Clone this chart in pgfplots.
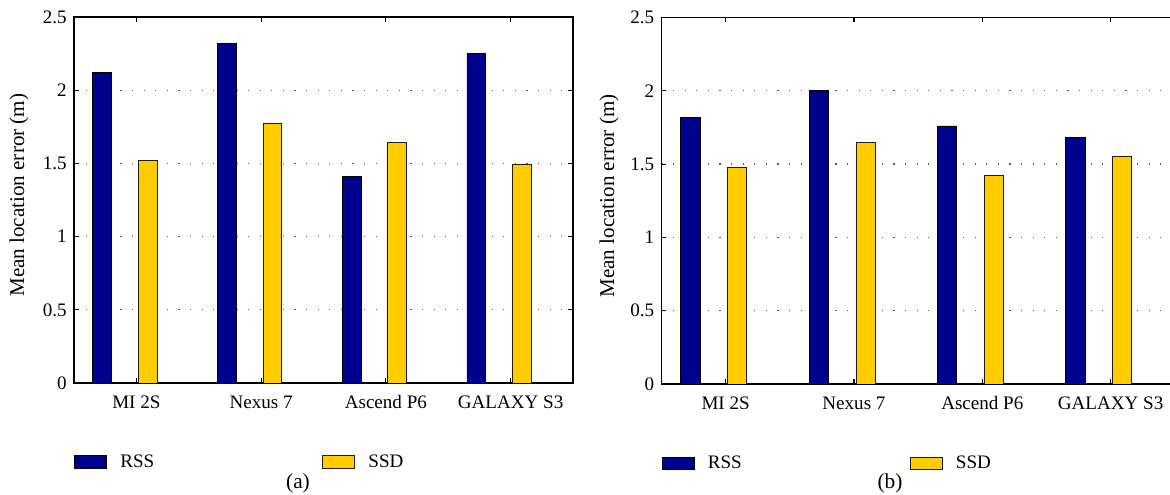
\documentclass[border=0pt]{standalone}
\usepackage{fontspec}
\setmainfont{Liberation Serif}
\usepackage{pgfplots}
\pgfplotsset{compat=1.18}
\definecolor{rssblue}{RGB}{0,0,140}
\definecolor{ssdyellow}{RGB}{255,204,0}
\pgfplotsset{
  mybars/.style={
    scale only axis,
    ymin=0, ymax=2.5,
    xmin=0.5, xmax=4.5,
    xtick={1,2,3,4},
    xticklabels={MI 2S, Nexus 7, Ascend P6, GALAXY S3},
    ytick={0,0.5,1,1.5,2,2.5},
    /pgf/number format/assume math mode=true,
    tick align=inside, tick pos=both,
    major tick length=3.75pt,
    ymajorgrids,
    grid style={black!65, line width=0.9pt, dash pattern=on 0.9pt off 7.8pt},
    axis line style={line width=0.9pt},
    every tick/.style={black, line width=0.8pt},
    tick label style={font=\fontsize{14.3}{16}\selectfont},
    xticklabel style={yshift=-6pt},
    yticklabel style={xshift=-2pt},
    label style={font=\fontsize{15.8}{18}\selectfont},
    ylabel={Mean location error (m)},
    legend columns=2,
    legend style={draw=none, fill=none, font=\fontsize{14.3}{16}\selectfont,
      at={(axis description cs:0,-0.216)}, anchor=west, inner sep=0pt,
      /tikz/every odd column/.append style={column sep=8pt},
      /tikz/every even column/.append style={column sep=124pt}},
    legend image code/.code={\draw[#1, line width=0.6pt] (0pt,-4.7pt) rectangle (24pt,4.7pt);},
  },
  rssstyle/.style={ybar, bar width=0.15, bar shift=-0.275, fill=rssblue, draw=black, line width=0.6pt},
  ssdstyle/.style={ybar, bar width=0.15, bar shift=0.09, fill=ssdyellow, draw=black!80!brown, line width=0.6pt},
}
\begin{document}
\begin{tikzpicture}
\useasboundingbox (0,0) rectangle (877.5pt,371.25pt);
\clip (0,0) rectangle (877.5pt,371.25pt);
% (a)
\begin{axis}[mybars, at={(55.5pt,84pt)}, anchor=south west, width=374.25pt, height=274.5pt,
  y label style={at={(axis description cs:0,0.513)}, anchor=center, yshift=41.25pt}]
\addplot[rssstyle] coordinates {(1,2.12) (2,2.32) (3,1.41) (4,2.25)};
\addplot[ssdstyle] coordinates {(1,1.52) (2,1.77) (3,1.64) (4,1.49)};
\legend{RSS, SSD}
\end{axis}
% (b)
\begin{axis}[mybars, at={(496.1pt,83.25pt)}, anchor=south west, width=385pt, height=274.9pt,
  y label style={at={(axis description cs:0,0.513)}, anchor=center, yshift=39.4pt}]
\addplot[rssstyle] coordinates {(1,1.82) (2,2.00) (3,1.76) (4,1.68)};
\addplot[ssdstyle] coordinates {(1,1.48) (2,1.65) (3,1.42) (4,1.55)};
\legend{RSS, SSD}
\end{axis}
\node[font=\fontsize{16}{18}\selectfont] at (223.5pt,9pt) {(a)};
\node[font=\fontsize{16}{18}\selectfont] at (667.5pt,9pt) {(b)};
\end{tikzpicture}
\end{document}
